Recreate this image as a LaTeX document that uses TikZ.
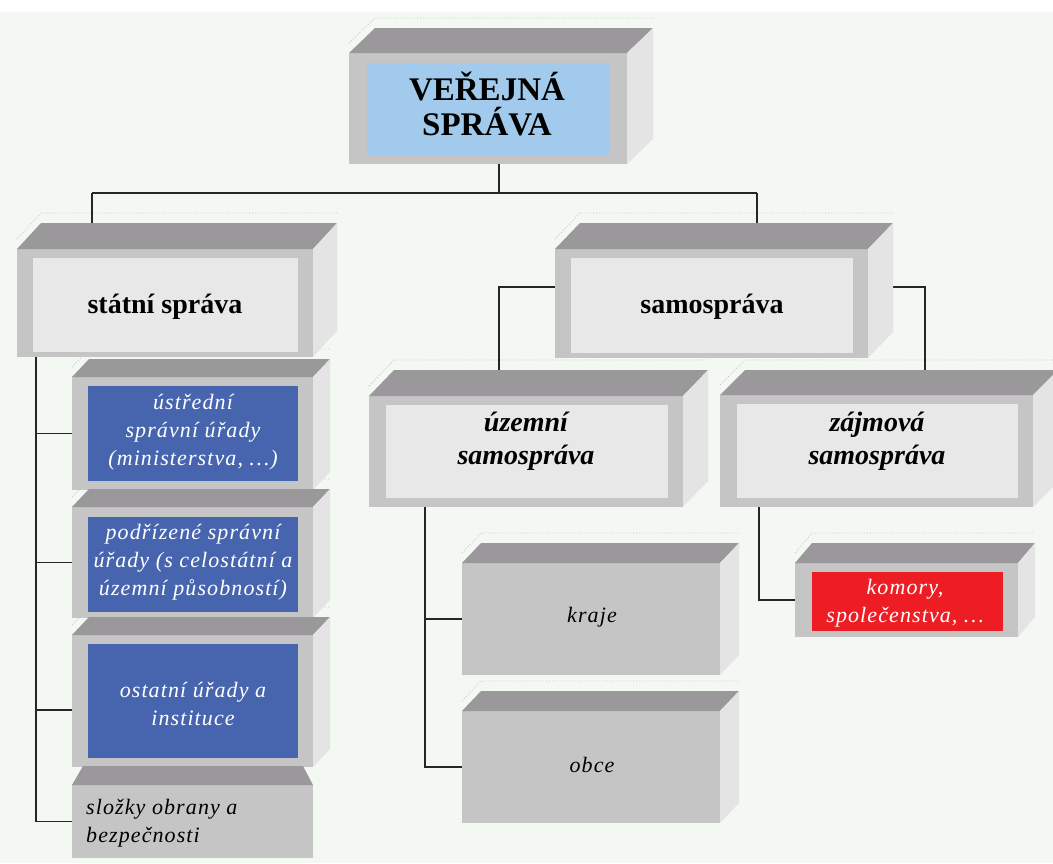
\documentclass[tikz,border=0pt]{standalone}
\usepackage{fontspec}
\setmainfont{Liberation Serif}
\newfontfamily\lblfont[LetterSpace=5]{Liberation Serif}
\usetikzlibrary{calc}
\pgfdeclarelayer{back}
\pgfdeclarelayer{lines}
\pgfsetlayers{back,lines,main}
\definecolor{bgc}{HTML}{F4F8F2}
\definecolor{topc}{HTML}{9A989A}
\definecolor{frontc}{HTML}{C4C5C4}
\definecolor{sidec}{HTML}{E4E4E4}
\definecolor{innerc}{HTML}{E8E8E8}
\definecolor{skyc}{HTML}{A2CAEC}
\definecolor{bluec}{HTML}{4765AF}
\definecolor{redc}{HTML}{EE1D24}
\definecolor{ghostc}{HTML}{C4C8C4}
\tikzset{
  front/.style={rectangle, fill=frontc, inner sep=0pt, outer sep=0pt},
  panel/.style={rectangle, inner sep=0pt, outer sep=0pt},
  conn/.style={draw=black!85, line width=1.3pt},
  title/.style={font=\fontsize{33}{35}\selectfont\bfseries, align=center, text=black, inner sep=0pt},
  head/.style={font=\fontsize{28}{32}\selectfont\bfseries, align=center, inner sep=0pt},
  headit/.style={font=\fontsize{28}{33}\selectfont\bfseries\itshape, align=center, inner sep=0pt},
  lbl/.style={font=\lblfont\itshape\fontsize{22}{28}\selectfont, align=center, inner sep=0pt},
  ghost/.style={draw=ghostc, line width=0.9pt, dotted},
}
\newcommand\cuboidfaces[3]{%
  \begin{pgfonlayer}{lines}
  \draw[ghost] ($(#1.north west)+(0,-10)$) -- ++(#2,-#3) -- ($(#1.north east)+(#2,-#3-10)$);
  \end{pgfonlayer}
  \fill[topc] (#1.north west) -- ++(#2,-#3) -- ($(#1.north east)+(#2,-#3)$) -- (#1.north east) -- cycle;
  \fill[sidec] (#1.north east) -- ++(#2,-#3) -- ($(#1.south east)+(#2,-#3)$) -- (#1.south east) -- cycle;
}
\begin{document}
\begin{tikzpicture}[x=1pt,y=-1pt]
\useasboundingbox (0,0) rectangle (1053,863);
\begin{pgfonlayer}{back}
\fill[bgc] (0,0) rectangle (1053,863);
\fill[white] (0,0) rectangle (1053,12);
\end{pgfonlayer}

% top box
\node[front, minimum width=278pt, minimum height=111pt] (vs) at (488,108.5) {};
\cuboidfaces{vs}{26}{25}
\node[panel, fill=skyc, minimum width=242pt, minimum height=92pt] (vsin) at (488,109) {};
\node[title] (vst) at (487,104) {VEŘEJNÁ\\SPRÁVA};

% statni sprava
\node[front, minimum width=296pt, minimum height=108pt] (ss) at (165,303) {};
\cuboidfaces{ss}{24}{26}
\node[panel, fill=innerc, minimum width=265pt, minimum height=94pt] (ssin) at (165.5,305) {};
\node[head] (sst) at (165,307) {státní správa};

% samosprava
\node[front, minimum width=313pt, minimum height=109pt] (sa) at (711.5,303.5) {};
\cuboidfaces{sa}{25}{26}
\node[panel, fill=innerc, minimum width=282pt, minimum height=95pt] (sain) at (712,305.5) {};
\node[head] (sat) at (712,307) {samospráva};

% left stack
\node[front, minimum width=241pt, minimum height=113pt] (us) at (192.5,433.5) {};
\cuboidfaces{us}{17}{18}
\node[panel, fill=bluec, minimum width=210pt, minimum height=95pt] (usin) at (193,433.5) {};
\node[lbl, text=white] (ust) at (193,432) {ústřední\\správní úřady\\(ministerstva, …)};

\node[front, minimum width=241pt, minimum height=111pt] (po) at (192.5,562.5) {};
\cuboidfaces{po}{17}{18}
\node[panel, fill=bluec, minimum width=210pt, minimum height=95pt] (poin) at (193,564.5) {};
\node[lbl, text=white] (pot) at (193,562) {podřízené správní\\úřady (s celostátní a\\územní působností)};

\node[front, minimum width=241pt, minimum height=132pt] (os) at (192.5,701) {};
\cuboidfaces{os}{17}{18}
\node[panel, fill=bluec, minimum width=210pt, minimum height=114pt] (osin) at (193,701) {};
\node[lbl, text=white] (ost) at (193,704) {ostatní úřady a\\instituce};

\node[front, minimum width=241pt, minimum height=73pt] (sl) at (192.5,821.5) {};
\fill[topc] (sl.north west) -- (83,766) -- (303,766) -- (sl.north east) -- cycle;
\node[lbl, align=left, anchor=west, text=black] (slt) at (86,823) {složky obrany a\\bezpečnosti};

% uzemni
\node[front, minimum width=314pt, minimum height=111pt] (uz) at (526,451.5) {};
\cuboidfaces{uz}{25}{26}
\node[panel, fill=innerc, minimum width=282pt, minimum height=93pt] (uzin) at (527,451.5) {};
\node[headit] (uzt) at (526,441) {územní\\samospráva};

% zajmova
\node[front, minimum width=313pt, minimum height=112pt] (zj) at (876.5,451) {};
\cuboidfaces{zj}{25}{25}
\node[panel, fill=innerc, minimum width=281pt, minimum height=94pt] (zjin) at (877.5,451) {};
\node[headit] (zjt) at (877,441) {zájmová\\samospráva};

% kraje, obce
\node[front, minimum width=258pt, minimum height=112pt] (kr) at (591,619) {};
\cuboidfaces{kr}{19}{20}
\node[lbl, text=black] (krt) at (592,617) {kraje};
\node[front, minimum width=258pt, minimum height=112pt] (ob) at (591,767) {};
\cuboidfaces{ob}{19}{20}
\node[lbl, text=black] (obt) at (592,765) {obce};

% komory
\node[front, minimum width=223pt, minimum height=74pt] (km) at (906.5,600) {};
\cuboidfaces{km}{17}{20}
\node[panel, fill=redc, minimum width=191pt, minimum height=59pt] (kmin) at (907.5,601.5) {};
\node[lbl, text=white] (kmt) at (905,603) {komory,\\společenstva, …};

% connectors
\begin{pgfonlayer}{lines}
\coordinate (jL) at (92,193);
\coordinate (jR) at (757,193);
\coordinate (jT) at (499,193);
\draw[conn] (jT |- vsin.south) -- (jT);
\draw[conn] (jL) -- (jR);
\draw[conn] (jL) -- (jL |- ss.north);
\draw[conn] (jR) -- (jR |- sa.north);
\coordinate (lsp) at ($(ss.south west)+(19,0)$);
\draw[conn] (lsp) |- (sl.west);
\draw[conn] (lsp |- us.west) -- (us.west);
\draw[conn] (lsp |- po.west) -- (po.west);
\draw[conn] ($(os.west)+(-36,9)$) -- ($(os.west)+(0,9)$);
\draw[conn] ($(sa.north west)+(0,38)$) -| ($(uz.north west)+(130,0)$);
\draw[conn] ($(sa.north east)+(0,38)$) -| ($(zj.north west)+(205,0)$);
\draw[conn] ($(uz.south west)+(56,0)$) |- (ob.west);
\draw[conn] ($(uz.south west)+(56,0)$) |- (kr.west);
\draw[conn] ($(zj.south west)+(39,0)$) |- (km.west);
\end{pgfonlayer}
\end{tikzpicture}
\end{document}
